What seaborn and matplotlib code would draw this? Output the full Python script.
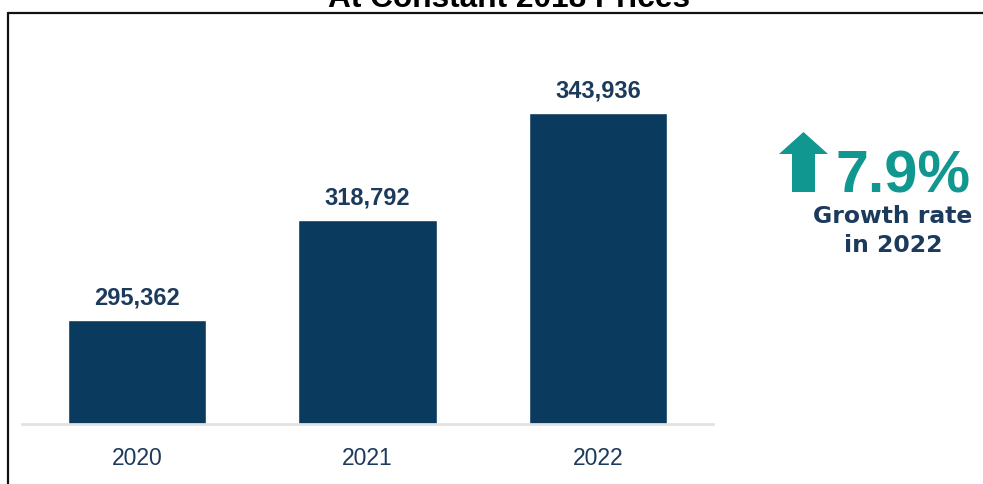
import matplotlib
matplotlib.use("Agg")
import matplotlib.pyplot as plt
from matplotlib.lines import Line2D
from matplotlib.patches import FancyArrow
import seaborn as sns
import pandas as pd

years = ["2020", "2021", "2022"]
values = [295362, 318792, 343936]
growth_label = "7.9%"
growth_lines = ["Growth rate", "in 2022"]
title = "At Constant 2018 Prices"

BAR = "#0b3a5f"
NAVY = "#1b3a5c"
TEAL = "#10978f"

sns.set_theme(style="white")
plt.rcParams["font.family"] = ["Liberation Sans", "DejaVu Sans"]

W, H = 983, 485
fig = plt.figure(figsize=(9.83, 4.85), dpi=100)
ax = fig.add_axes([22 / W, 60 / H, 691 / W, 411 / H])

df = pd.DataFrame({"year": years, "value": values})
sns.barplot(data=df, x="year", y="value", color=BAR, saturation=1, width=0.6, ax=ax)

ax.set_xlim(-0.5, 2.5)
ax.set_ylim(270950, 367400)
ax.set_xlabel("")
ax.set_ylabel("")
ax.set_yticks([])
for s in ["top", "left", "right"]:
    ax.spines[s].set_visible(False)
ax.spines["bottom"].set_color("#e2e2e2")
ax.spines["bottom"].set_linewidth(2)
ax.tick_params(axis="x", length=0, pad=16, labelsize=16.5, labelcolor=NAVY)

for i, v in enumerate(values):
    ax.annotate(f"{v:,}", (i, v), xytext=(0, 8.5), textcoords="offset points",
                ha="center", va="bottom", fontsize=17, fontweight="bold", color=NAVY)

# title (cut off at top)
fig.text(508.5 / W, 1 - 7 / H, title, ha="center", va="baseline",
         fontsize=22.8, fontweight="bold", color="black")

# frame
fig.add_artist(Line2D([8 / W, 1.0], [1 - 14 / H, 1 - 14 / H], transform=fig.transFigure,
                      color="#111111", linewidth=1.6))
fig.add_artist(Line2D([8 / W, 8 / W], [0.0, 1 - 14 / H], transform=fig.transFigure,
                      color="#111111", linewidth=1.6))

# arrow
arrow = FancyArrow(803.5 / W, 1 - 193 / H, 0, (193 - 133) / H, width=23 / W,
                   head_width=49 / W, head_length=22 / H, length_includes_head=True,
                   transform=fig.transFigure, color=TEAL, linewidth=0)
fig.add_artist(arrow)

fig.text(835 / W, 1 - 193 / H, growth_label, ha="left", va="baseline",
         fontsize=42.7, fontweight="bold", color=TEAL)
for line, base in zip(growth_lines, [223, 252]):
    fig.text(893 / W, 1 - base / H, line, ha="center", va="baseline",
             fontsize=16.9, fontweight="bold", color=NAVY, family=["DejaVu Sans"])

fig.savefig("out.png", dpi=100)
